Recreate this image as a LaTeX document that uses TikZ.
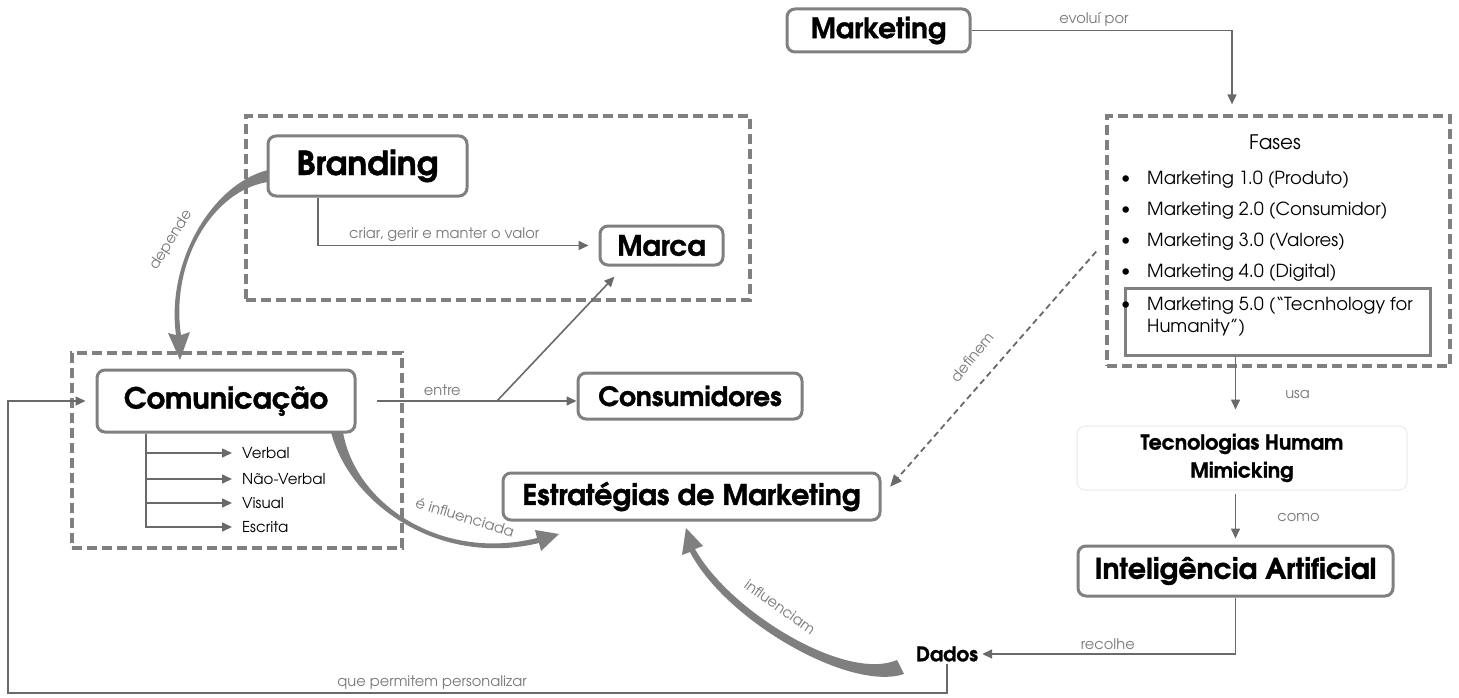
\documentclass[tikz,border=0pt]{standalone}
\usepackage{fontspec}
\setmainfont{texgyreadventor}[Extension=.otf, UprightFont=*-regular, BoldFont=*-bold, ItalicFont=*-italic, BoldItalicFont=*-bolditalic, BoldFeatures={FakeBold=1.2}]
\usetikzlibrary{arrows.meta}

\definecolor{boxgray}{HTML}{808080}
\definecolor{linegray}{HTML}{6A6A6A}
\definecolor{lblgray}{HTML}{7A7A7A}
\definecolor{fatgray}{HTML}{7F7F7F}
\definecolor{faintgray}{HTML}{EBEBEB}

\newcommand\fsz[1]{\fontsize{#1}{1.2\dimexpr#1pt\relax}\selectfont}

\tikzset{
  box/.style={draw=boxgray, line width=3pt, rounded corners=8pt, fill=white,
    text=black, inner sep=0pt, align=center},
  grp/.style={draw=boxgray, line width=3.2pt, dash pattern=on 10pt off 5pt},
  conn/.style={draw=linegray, line width=1.6pt, -{Triangle[length=10pt,width=9pt]}},
  lbl/.style={text=lblgray, font=\fsz{14.6}, inner sep=1pt},
  fat/.style={fill=fatgray, draw=none},
  item/.style={anchor=west, font=\fsz{18}, text=black, inner sep=0pt},
  sub/.style={anchor=west, font=\fsz{15}, text=black, inner sep=2pt},
}

\begin{document}
\begin{tikzpicture}[x=1pt, y=-1pt]
\useasboundingbox[fill=white] (0,0) rectangle (1459,698);

% dashed groups
\node[grp, minimum width=504pt, minimum height=184pt] (brandgrp) at (498,208) {};
\node[grp, minimum width=330pt, minimum height=195pt] (comgrp) at (237,450.5) {};
\node[grp, minimum width=343pt, minimum height=250pt] (fases) at (1278.5,241) {};

% phases list
\node[font=\fsz{20}, inner sep=0pt] (fasestitle) at (1275,142) {Fases};
\node[draw=boxgray, line width=3pt, minimum width=305pt, minimum height=67pt, inner sep=0pt] (m5) at (1277.5,321.5) {};
\node[item] (b1) at (1121,180) {\textbullet};
\node[item] (b2) at (1121,211) {\textbullet};
\node[item] (b3) at (1121,242) {\textbullet};
\node[item] (b4) at (1121,273) {\textbullet};
\node[item] (b5) at (1121,306) {\textbullet};
\node[item] (f1) at (1147,180) {Marketing 1.0 (Produto)};
\node[item] (f2) at (1147,211) {Marketing 2.0 (Consumidor)};
\node[item] (f3) at (1147,242) {Marketing 3.0 (Valores)};
\node[item] (f4) at (1147,273) {Marketing 4.0 (Digital)};
\node[item, align=left, font=\fontsize{18}{22}\selectfont] (f5) at (1147,317) {Marketing 5.0 (“Tecnhology for\\Humanity”)};

% main boxes
\node[box, font=\fsz{28}\bfseries, minimum width=183pt, minimum height=43pt] (mkt) at (878.5,30.5) {Marketing};
\node[box, font=\fsz{33}\bfseries, minimum width=199pt, minimum height=60pt] (brand) at (367.5,166) {Branding};
\node[box, font=\fsz{28}\bfseries, minimum width=123pt, minimum height=39pt] (marca) at (661.5,245.5) {Marca};
\node[box, font=\fsz{29}\bfseries, minimum width=258pt, minimum height=62pt] (com) at (226,401) {Comunicação};
\node[box, font=\fsz{26.5}\bfseries, minimum width=224pt, minimum height=46pt] (cons) at (690,396) {Consumidores};
\node[box, font=\fsz{28.5}\bfseries, minimum width=377pt, minimum height=47pt] (estr) at (691.5,496.5) {Estratégias de Marketing};
\node[box, draw=faintgray, line width=1pt, font=\fontsize{20.5}{28}\selectfont\bfseries, minimum width=330pt, minimum height=64pt] (tech) at (1242,458) {Tecnologias Humam\\Mimicking};
\node[box, font=\fsz{28.4}\bfseries, minimum width=315pt, minimum height=50pt] (ia) at (1235.5,571) {Inteligência Artificial};
\node[font=\fsz{20}\bfseries, inner sep=2pt] (dados) at (947,654) {Dados};

% communication kinds
\node[sub] (verbal) at (240,453) {Verbal};
\node[sub] (naoverbal) at (240,479) {Não-Verbal};
\node[sub] (visual) at (240,503) {Visual};
\node[sub] (escrita) at (240,527) {Escrita};

% connectors
\draw[conn, shorten >=10pt] (mkt.east) -| ([xshift=-46.5pt]fases.north)
  node[lbl, above, pos=0.235, yshift=2pt] {evoluí por};
\draw[conn, shorten >=16pt] (m5.south -| ia) -- (tech.north -| ia)
  node[lbl, right, pos=0.55, xshift=48pt] {usa};
\draw[conn, shorten <=3pt, shorten >=6pt] (tech.south -| ia) -- (ia.north)
  node[lbl, right, pos=0.5, xshift=40pt] {como};
\draw[conn, shorten >=2pt] (ia.south) |- (dados.east)
  node[lbl, above, pos=0.75, yshift=3pt] {recolhe};
\coordinate (loopL) at (8,693);
\draw[conn, shorten >=10pt] (dados.south) |- (loopL) |- (com.west);
\node[lbl] (personal) at (432,683) {que permitem personalizar};

\draw[conn, shorten >=10pt] ([xshift=-49.5pt]brand.south) |- (marca.west)
  node[lbl, above, pos=0.725, yshift=2pt] {criar, gerir e manter o valor};
\draw[conn, shorten <=20pt] (com.east) -- (com.east -| cons.west)
  node[lbl, above, pos=0.39, yshift=4pt] {entre};
\coordinate (split) at (com.east -| 497,0);
\draw[conn, shorten >=14pt] (split) -- ([xshift=-37.5pt]marca.south);

\coordinate (subroot) at ([xshift=-80pt]com.south);
\draw[conn, shorten >=8pt] (subroot) |- (verbal.west);
\draw[conn, shorten >=8pt] (subroot) |- (naoverbal.west);
\draw[conn, shorten >=8pt] (subroot) |- (visual.west);
\draw[conn, shorten >=8pt] (subroot) |- (escrita.west);

\draw[draw=linegray, line width=1.8pt, dash pattern=on 6pt off 4pt,
  -{Triangle[length=12pt,width=10pt]}, shorten <=14pt, shorten >=13pt]
  (fases.west) -- (estr.east);
\node[lbl, rotate=51] (lbldef) at (972,357) {definem};

% tapered curved arrows
\fill[fat] (268,170) .. controls (212,184) and (166,262) .. (176,335)
  -- (168,333) -- (180,360) -- (190,332) -- (181,335)
  .. controls (170,262) and (213,190) .. (268,182) -- cycle;
\node[lbl, rotate=58] (lbldep) at (171,240) {depende};

\fill[fat] (331,432) .. controls (350,505) and (440,567) .. (539,543)
  -- (541,551) -- (559,534) -- (535,530) -- (537,538)
  .. controls (440,562) and (355,503) .. (343,432) -- cycle;
\node[lbl, rotate=-17] (lblinf) at (465,517) {é influenciada};

\fill[fat] (904,674) .. controls (850,692) and (726,621) .. (690,552)
  -- (682,555) -- (686,528) -- (703,546) -- (695,549)
  .. controls (730,612) and (846,682) .. (897,660) -- cycle;
\node[lbl, rotate=-35] (lblinfl) at (780,607) {influenciam};
\end{tikzpicture}
\end{document}
